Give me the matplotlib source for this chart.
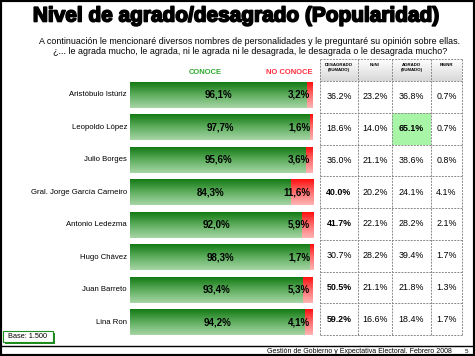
import numpy as np
import matplotlib
matplotlib.use("Agg")
import matplotlib.pyplot as plt
import matplotlib.patheffects as pe
from matplotlib.colors import LinearSegmentedColormap
from matplotlib.patches import Rectangle

# data
names = ["Aristóbulo Istúriz", "Leopoldo López", "Julio Borges",
         "Gral. Jorge García Carneiro", "Antonio Ledezma", "Hugo Chávez",
         "Juan Barreto", "Lina Ron"]
conoce = [96.1, 97.7, 95.6, 84.3, 92.0, 98.3, 93.4, 94.2]
no_conoce = [3.2, 1.6, 3.6, 11.6, 5.9, 1.7, 5.3, 4.1]

col_headers = ["DESAGRADO\n(SUMADO)", "NI/NI", "AGRADO\n(SUMADO)", "NS/NR"]
desagrado = [36.2, 18.6, 36.0, 40.0, 41.7, 30.7, 50.5, 59.2]
ni_ni = [23.2, 14.0, 21.1, 20.2, 22.1, 28.2, 21.1, 16.6]
agrado = [36.8, 65.1, 38.6, 24.1, 28.2, 39.4, 21.8, 18.4]
ns_nr = [0.7, 0.7, 0.8, 4.1, 2.1, 1.7, 1.3, 1.7]

W, H = 475, 356
SANS = ["Liberation Sans", "DejaVu Sans"]

green_cm = LinearSegmentedColormap.from_list("g", ["#147a14", "#5fae5f", "#a6d6a6"])
red_cm = LinearSegmentedColormap.from_list("r", ["#ff1010", "#ff6f6f", "#ffb4b4"])
gray_cm = LinearSegmentedColormap.from_list("h", ["#ffffff", "#d8d8d8"])
grad = np.linspace(0, 1, 64).reshape(-1, 1)


def fx(px):
    return px / W


def fy(py):
    return 1 - py / H


fig = plt.figure(figsize=(4.75, 3.56), dpi=100)
fig.patch.set_facecolor("white")

# frame + footer line
fig.add_artist(Rectangle((0, 0), 1, 1, transform=fig.transFigure, fill=False,
                         ec="black", lw=3))
fig.add_artist(plt.Line2D([0, 1], [fy(345.5), fy(345.5)], transform=fig.transFigure,
                          color="black", lw=1))

fig.text(fx(237), fy(16), "Nivel de agrado/desagrado (Popularidad)", ha="center",
         va="center", fontsize=15, fontweight="bold", family=SANS,
         path_effects=[pe.withStroke(linewidth=1.2, foreground="black")])
fig.text(fx(250), fy(42), "A continuación le mencionaré diversos nombres de personalidades "
         "y le preguntaré su opinión sobre ellas.", ha="center", va="center",
         fontsize=6.4, family=SANS)
fig.text(fx(250), fy(51), "¿... le agrada mucho, le agrada, ni le agrada ni le desagrada, "
         "le desagrada o le desagrada mucho?", ha="center", va="center",
         fontsize=6.4, family=SANS)

fig.text(fx(205), fy(73), "CONOCE", color="#2eaa2e", ha="center", va="center",
         fontsize=5.5, fontweight="bold", family=SANS)
fig.text(fx(313), fy(73), "NO CONOCE", color="#ff3040", ha="right", va="center",
         fontsize=5.5, fontweight="bold", family=SANS)

# bars (stacked to 100%)
ax = fig.add_axes([fx(130), fy(335), fx(183), 253 / H])
ax.set_xlim(0, 100)
ax.set_ylim(7.4, -0.4)
ax.axis("off")
for i, (c, n) in enumerate(zip(conoce, no_conoce)):
    tot = c + n
    gw = c / tot * 100
    ax.imshow(grad, cmap=green_cm, aspect="auto", extent=(0, gw, i + 0.4, i - 0.4))
    ax.imshow(grad, cmap=red_cm, aspect="auto", extent=(gw, 100, i + 0.4, i - 0.4))
    ax.text(gw / 2, i, f"{c:.1f}%".replace(".", ","), ha="center", va="center",
            fontsize=7, fontweight="bold", family=SANS)
    ax.text(98.4, i, f"{n:.1f}%".replace(".", ","), ha="right", va="center",
            fontsize=7, fontweight="bold", family=SANS)
    ax.text(-1.6, i, names[i], ha="right", va="center", fontsize=5.6, family=SANS)
ax.set_xlim(0, 100)
ax.set_ylim(7.4, -0.4)

# table
edges = [0, 38, 72, 111, 142]
hh = 22 / 31.75
tx = fig.add_axes([fx(320), fy(335), fx(142), (335 - 59) / H])
tx.set_xlim(0, 142)
tx.set_ylim(7.5, -0.5 - hh)
tx.axis("off")
tx.imshow(grad, cmap=gray_cm, aspect="auto", extent=(0, 142, -0.5, -0.5 - hh))
tx.add_patch(Rectangle((edges[2], 0.5), edges[3] - edges[2], 1, color="#a8f5a8", lw=0))
cols = [desagrado, ni_ni, agrado, ns_nr]
for j, vals in enumerate(cols):
    xc = (edges[j] + edges[j + 1]) / 2
    tx.text(xc, -0.5 - hh + 0.12, col_headers[j], ha="center", va="top",
            fontsize=3.2, fontweight="bold", family=SANS, linespacing=1.3)
    for i, v in enumerate(vals):
        bold = (j == 0 and v >= 40) or (j == 2 and v > 60)
        tx.text(xc, i, f"{v:.1f}%", ha="center", va="center", fontsize=6.4,
                fontweight="bold" if bold else "normal", family=SANS)
ls = (0, (2, 1.2))
for y in [-0.5 - hh] + [k - 0.5 for k in range(9)]:
    tx.plot([0, 142], [y, y], color="#8a8a8a", lw=0.7, ls=ls, clip_on=False)
for x in edges:
    tx.plot([x, x], [-0.5 - hh, 7.5], color="#8a8a8a", lw=0.7, ls=ls, clip_on=False)
tx.set_xlim(0, 142)
tx.set_ylim(7.5, -0.5 - hh)

# base box
fig.add_artist(Rectangle((fx(5), fy(344)), fx(50), 11 / H, transform=fig.transFigure,
                         fc="#1e8c1e", ec="none"))
fig.add_artist(Rectangle((fx(3), fy(342)), fx(50), 11 / H, transform=fig.transFigure,
                         fc="white", ec="#1e8c1e", lw=0.8))
fig.text(fx(28), fy(336.5), "Base: 1.500", ha="center", va="center", fontsize=5.3,
         family=SANS)

fig.text(fx(452), fy(351.5), "Gestión de Gobierno y Expectativa Electoral. Febrero 2008",
         ha="right", va="center", fontsize=5, family=SANS)
fig.text(fx(466), fy(351.5), "5", ha="center", va="center", fontsize=4.5, family=SANS)

fig.savefig("out.png", dpi=100)
